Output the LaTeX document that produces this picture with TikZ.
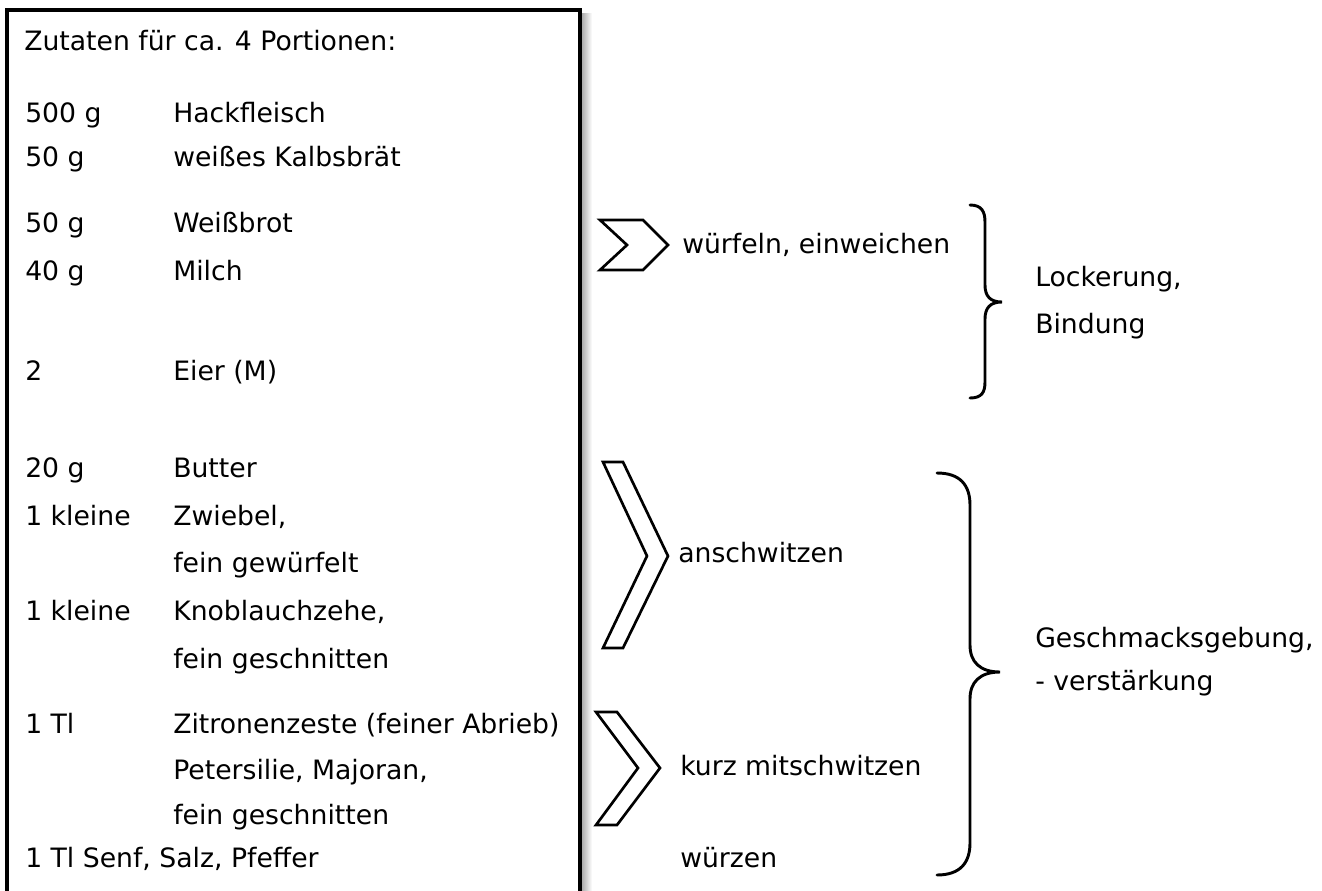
\documentclass[tikz,border=0pt]{standalone}
\usepackage{fontspec}
\setmainfont{DejaVu Sans}

\tikzset{
  txt/.style={anchor=base west, inner sep=0pt, font=\fontsize{20}{24}\selectfont},
  chevron/.style={draw, line width=2pt, miter limit=10},
  curly/.style={draw, line width=2.2pt, line cap=round},
}

\begin{document}
\begin{tikzpicture}[x=0.75pt, y=-0.75pt]
  \useasboundingbox (0,0) rectangle (1322,890);

  % box with shadow
  \shade[left color=black!35, right color=white] (581,13) rectangle (592,900);
  \draw[line width=2.4pt, fill=white] (7,10) rectangle (580,900);

  \node[txt] (head) at (24,50) {Zutaten für ca. 4 Portionen:};

  \foreach \y/\amt [count=\i] in {122/500 g, 166/50 g, 232/50 g, 280/40 g, 380/2,
      477/20 g, 525/1 kleine, 620/1 kleine, 733/1 Tl} {
    \node[txt] (amt-\i) at (25,\y) {\amt};
  }

  \foreach \y/\what [count=\i] in {122/Hackfleisch, 166/weißes Kalbsbrät, 232/Weißbrot,
      280/Milch, 380/Eier (M), 477/Butter, {525/Zwiebel,}, 572/fein gewürfelt,
      {620/Knoblauchzehe,}, 668/fein geschnitten, 733/Zitronenzeste (feiner Abrieb),
      {779/Petersilie, Majoran,}, 824/fein geschnitten} {
    \node[txt] (item-\i) at (173,\y) {\what};
  }

  \node[txt] (senf) at (25,867) {1 Tl Senf, Salz, Pfeffer};

  % chevrons
  \draw[chevron] (600,220) -- (643,220) -- (668,245) -- (643,270) -- (600,270) -- (627,245) -- cycle;
  \draw[chevron] (603,462) -- (623,462) -- (668,556) -- (623,648) -- (603,648) -- (647,556) -- cycle;
  \draw[chevron] (596,712) -- (617,712) -- (660,768) -- (617,825) -- (596,825) -- (638,768) -- cycle;

  \node[txt] (wuerfeln) at (682,253) {würfeln, einweichen};
  \node[txt] (anschw) at (678,562) {anschwitzen};
  \node[txt] (mitschw) at (680,775) {kurz mitschwitzen};
  \node[txt] (wuerzen) at (680,867) {würzen};

  % braces
  \draw[curly] (970,205) .. controls (982,205) and (985,212) .. (985,222) -- (985,285)
    .. controls (985,296) and (990,302) .. (1002,302)
    .. controls (990,302) and (985,308) .. (985,319) -- (985,382)
    .. controls (985,392) and (982,398) .. (970,398);
  \draw[curly] (937,473) .. controls (960,473) and (970,485) .. (970,505) -- (970,645)
    .. controls (970,662) and (980,672) .. (1000,672)
    .. controls (980,672) and (970,682) .. (970,699) -- (970,843)
    .. controls (970,863) and (960,875) .. (937,875);

  \node[txt] (locker) at (1035,286) {Lockerung,};
  \node[txt] (bind) at (1035,333) {Bindung};
  \node[txt] (geschm) at (1035,647) {Geschmacksgebung,};
  \node[txt] (verst) at (1035,690) {- verstärkung};
\end{tikzpicture}
\end{document}
